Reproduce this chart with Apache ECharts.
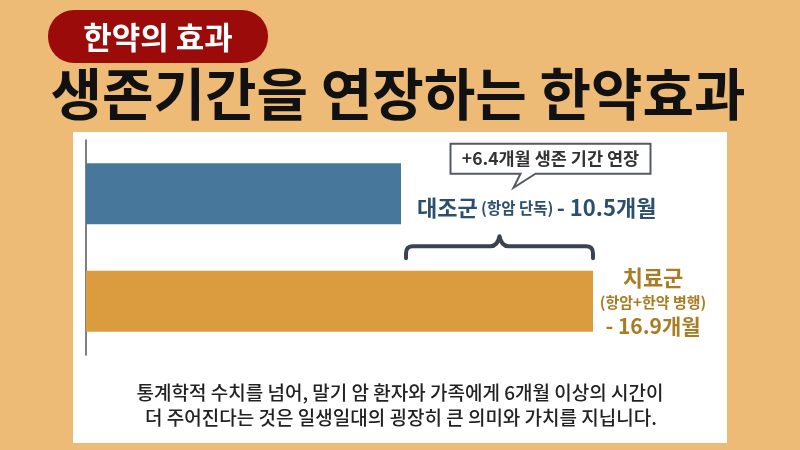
<!DOCTYPE html>
<html>
<head>
<meta charset="utf-8">
<script src="https://cdn.jsdelivr.net/npm/echarts@6/dist/echarts.min.js"></script>
<style>
  html, body { margin: 0; padding: 0; background: #EDBB76; }
  #chart { width: 800px; height: 450px; }
</style>
</head>
<body>
<div id="chart"></div>
<script>
// 데이터
var groups = ['대조군', '치료군'];
var notes = ['항암 단독', '항암+한약 병행'];
var months = [10.5, 16.9];
var barColors = ['#47789C', '#DA9C3E'];
var labelColors = ['#2C4F6F', '#A97B22'];
var gainText = '+' + (months[1] - months[0]).toFixed(1) + '개월 생존 기간 연장';
var tagText = '한약의 효과';
var titleText = '생존기간을 연장하는 한약효과';
var footLines = [
    '통계학적 수치를 넘어, 말기 암 환자와 가족에게 6개월 이상의 시간이',
    '더 주어진다는 것은 일생일대의 굉장히 큰 의미와 가치를 지닙니다.'
];

var FONT = '"Noto Sans CJK KR", "Noto Sans", sans-serif';

var chart = echarts.init(document.getElementById('chart'));

// 괄호 + 말풍선
function renderBrace(params, api) {
    var left = api.coord([api.value(0), 1]);
    var right = api.coord([api.value(1), 1]);
    var top = api.coord([api.value(0), 0]);
    var x1 = left[0] + 5, x2 = right[0];
    var mid = (x1 + x2) / 2;
    var yb = left[1] - 43;   // 괄호 아래 끝
    var yh = yb - 12;        // 가로선
    var yp = yh - 10;        // 가운데 꼭지
    var r = 7;
    var brace = 'M' + x1 + ' ' + yb +
        ' L' + x1 + ' ' + (yh + r) +
        ' Q' + x1 + ' ' + yh + ' ' + (x1 + r) + ' ' + yh +
        ' L' + (mid - 9) + ' ' + yh +
        ' Q' + (mid - 2) + ' ' + yh + ' ' + mid + ' ' + yp +
        ' Q' + (mid + 2) + ' ' + yh + ' ' + (mid + 9) + ' ' + yh +
        ' L' + (x2 - r) + ' ' + yh +
        ' Q' + x2 + ' ' + yh + ' ' + x2 + ' ' + (yh + r) +
        ' L' + x2 + ' ' + yb;

    var bx = mid - 49, bw = 200;
    var by = top[1] - 50, bh = 30;
    var box = [
        [bx, by], [bx + bw, by], [bx + bw, by + bh],
        [mid + 36, by + bh], [mid + 14, by + bh + 14], [mid + 21, by + bh],
        [bx, by + bh]
    ];
    return {
        type: 'group',
        children: [
            { type: 'path', shape: { pathData: brace },
              style: { fill: null, stroke: '#3B4350', lineWidth: 4, lineCap: 'round', lineJoin: 'round' } },
            { type: 'polygon', shape: { points: box },
              style: { fill: '#fff', stroke: '#555b62', lineWidth: 2 } },
            { type: 'rect', shape: { x: bx, y: by, width: bw, height: bh },
              style: { fill: 'transparent' },
              textContent: {
                  style: { text: gainText, fontSize: 17.5, fontWeight: 'bold', fontFamily: FONT, fill: '#333' }
              },
              textConfig: { position: 'inside', offset: [0, 0] } }
        ]
    };
}

function rich(size, color, lh) {
    return { fontSize: size, fontWeight: 'bold', fontFamily: FONT, color: color, lineHeight: lh };
}

var option = {
    backgroundColor: '#EDBB76',
    animation: false,
    graphic: [
        { type: 'rect', z: 0, shape: { x: 73, y: 132, width: 654, height: 311 },
          style: { fill: '#fff' } },
        { type: 'rect', z: 0, shape: { x: 48, y: 10, width: 220, height: 53, r: 26 },
          style: { fill: '#9A0B09' } },
        { type: 'text', z: 1, x: 158, y: 37,
          style: { text: tagText, font: 'bold 31px ' + FONT, fill: '#fff',
                   align: 'center', verticalAlign: 'middle' } },
        { type: 'text', z: 1, x: 398, y: 94,
          style: { text: titleText, font: 'bold 56px ' + FONT, fill: '#111',
                   align: 'center', verticalAlign: 'middle' } },
        { type: 'text', z: 1, x: 400, y: 393,
          style: { text: footLines[0], font: '500 19px ' + FONT, fill: '#222',
                   align: 'center', verticalAlign: 'middle' } },
        { type: 'text', z: 1, x: 401, y: 418,
          style: { text: footLines[1], font: '500 19px ' + FONT, fill: '#222',
                   align: 'center', verticalAlign: 'middle' } }
    ],
    grid: { left: 86, right: 114, top: 140, height: 215 },
    xAxis: { type: 'value', min: 0, max: 20, show: false },
    yAxis: {
        type: 'category', data: groups, inverse: true,
        axisLine: { lineStyle: { color: '#555', width: 1.5 } },
        axisTick: { show: false }, axisLabel: { show: false }
    },
    series: [
        {
            type: 'bar', barWidth: 61,
            data: months.map(function (v, i) {
                var lab = i === 0 ? {
                    show: true, position: 'right', distance: 16, offset: [0, 14],
                    formatter: '{a|' + groups[0] + '} {b|(' + notes[0] + ')} {a|- ' + months[0] + '개월}',
                    rich: { a: rich(22, labelColors[0], 26), b: rich(15.5, labelColors[0], 26) }
                } : {
                    show: true, position: 'right', distance: 60, align: 'center', offset: [0, 0],
                    formatter: '{a|' + groups[1] + '}\n{b|(' + notes[1] + ')}\n{c|- ' + months[1] + '개월}',
                    rich: {
                        a: rich(22, labelColors[1], 27),
                        b: rich(15, labelColors[1], 23),
                        c: rich(21, labelColors[1], 25)
                    }
                };
                return { value: v, itemStyle: { color: barColors[i] }, label: lab };
            })
        },
        {
            type: 'custom', silent: true,
            renderItem: renderBrace,
            data: [[months[0], months[1]]]
        }
    ]
};

chart.setOption(option);
</script>
</body>
</html>
